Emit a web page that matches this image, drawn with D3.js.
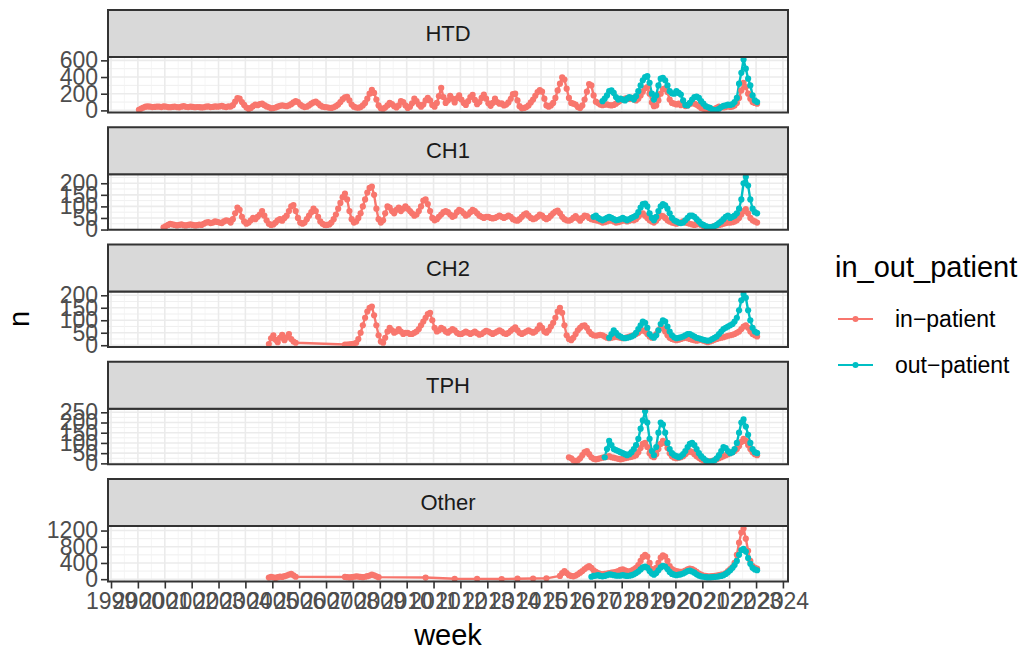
<!DOCTYPE html>
<html>
<head>
<meta charset="utf-8">
<script src="https://cdn.jsdelivr.net/npm/d3@7"></script>
<style>
  body { margin: 0; background: #fff; }
  text { font-family: "Liberation Sans", Arial, sans-serif; }
</style>
</head>
<body>
<div id="chart"></div>
<script>
// facets, groups and colours
var facetNames = ["HTD", "CH1", "CH2", "TPH", "Other"];
var groupNames = ["in-patient", "out-patient"];
var groupColors = ["#F8766D", "#00BFC4"];

// y breaks of each facet
var htdTicks = [0, 200, 400, 600];
var ch1Ticks = [0, 50, 100, 150, 200];
var ch2Ticks = [0, 50, 100, 150, 200];
var tphTicks = [0, 50, 100, 150, 200, 250];
var otherTicks = [0, 400, 800, 1200];

var htdInStart = "2000-01";
var htdIn = [
  8, 22, 35, 45, 48, 44, 40, 42, 46, 44, 40, 48,
  45, 40, 38, 42, 46, 40, 37, 44, 50, 43, 40, 46,
  42, 38, 41, 40, 36, 38, 44, 48, 40, 42, 47, 44,
  48, 54, 45, 40, 48, 46, 62, 105, 148, 140, 100, 65,
  35, 18, 30, 50, 68, 62, 74, 80, 62, 48, 38, 25,
  28, 35, 45, 55, 60, 55, 50, 60, 75, 95, 112, 100,
  70, 50, 40, 45, 60, 80, 95, 104, 85, 60, 45, 40,
  38, 32, 30, 38, 50, 70, 100, 135, 155, 162, 120, 70,
  45, 35, 32, 40, 60, 90, 140, 200, 245, 210, 130, 60,
  25, 20, 35, 60, 90, 75, 50, 35, 60, 110, 100, 60,
  30, 45, 85, 140, 110, 70, 45, 70, 120, 150, 120, 65,
  45, 90, 170, 270, 160, 90, 120, 175, 140, 95, 145, 180,
  130, 90, 65, 110, 160, 185, 125, 75, 100, 150, 190, 140,
  85, 55, 90, 140, 100, 80, 84, 60, 70, 95, 140, 195,
  200, 120, 50, 25, 30, 40, 60, 95, 130, 175, 220, 242,
  225, 140, 60, 45, 60, 90, 150, 240, 320, 395, 370, 260,
  150, 90, 80, 70, 40, 28, 60, 130, 225, 315, 300, 180,
  105, 88, 70, 62, 68, 72, 64, 60, 66, 80, 100, 118,
  125, 140, 148, 138, 150, 132, 120, 140, 180, 225, 265, 280,
  200, 95, 50, 60, 120, 200, 255, 265, 220, 130, 90, 80,
  72, 80, 62, 70, 52, 60, 78, 88, 80, 68, 50, 30,
  20, 10, 5, 5, 8, 18, 30, 45, 40, 35, 40, 50,
  42, 46, 60, 90, 150, 240, 330, 280, 200, 140, 100, 90,
  80
];
var htdOutStart = "2017-04";
var htdOut = [
  110, 140, 180, 230, 240, 210, 160, 130, 140,
  130, 120, 140, 160, 150, 130, 170, 230, 300, 360, 400, 410,
  330, 200, 130, 180, 300, 380, 390, 360, 300, 230, 205, 200,
  230, 210, 190, 120, 65, 60, 90, 130, 160, 165, 150, 110,
  80, 50, 40, 30, 10, 5, 8, 20, 40, 55, 60, 70,
  65, 75, 100, 150, 320, 450, 610, 500, 380, 300, 180, 120,
  100
];

var ch1InStart = "2000-12";
var ch1In = [
  10,
  15, 20, 25, 22, 20, 18, 20, 22, 19, 18, 20, 22,
  20, 18, 19, 21, 20, 25, 30, 32, 28, 30, 35, 33,
  30, 28, 35, 40, 38, 30, 45, 70, 95, 85, 55, 35,
  25, 30, 40, 50, 45, 55, 65, 80, 60, 40, 25, 20,
  22, 30, 40, 45, 38, 50, 60, 80, 100, 106, 80, 50,
  30, 25, 30, 45, 60, 75, 90, 80, 55, 35, 25, 20,
  20, 22, 30, 45, 65, 90, 115, 140, 155, 130, 80, 45,
  30, 35, 50, 70, 100, 130, 160, 180, 185, 150, 90, 45,
  30, 40, 70, 100, 95, 80, 70, 85, 95, 80, 90, 100,
  90, 80, 70, 60, 65, 80, 100, 125, 130, 110, 80, 50,
  40, 45, 55, 65, 75, 80, 75, 65, 55, 60, 75, 85,
  80, 70, 60, 65, 75, 85, 80, 70, 60, 55, 50, 55,
  55, 50, 48, 50, 55, 60, 55, 50, 55, 60, 55, 45,
  40, 38, 45, 55, 65, 70, 60, 50, 45, 48, 55, 65,
  60, 50, 45, 50, 60, 70, 78, 82, 70, 55, 45, 40,
  38, 42, 50, 58, 48, 38, 50, 60, 58, 50, 45, 42,
  40, 38, 35, 30, 32, 35, 38, 40, 35, 30, 32, 35,
  38, 40, 35, 38, 42, 40, 45, 55, 65, 70, 60, 50,
  40, 35, 30, 38, 50, 60, 58, 50, 40, 35, 30, 28,
  25, 28, 30, 35, 30, 28, 25, 22, 20, 22, 25, 20,
  15, 12, 10, 10, 12, 15, 18, 20, 22, 25, 28, 30,
  30, 32, 35, 40, 50, 65, 80, 88, 70, 50, 40, 35,
  30
];
var ch1OutStart = "2016-12";
var ch1Out = [
  55,
  60, 50, 45, 40, 45, 50, 55, 50, 45, 40, 42, 45,
  50, 45, 40, 45, 50, 55, 60, 75, 95, 110, 112, 100,
  70, 50, 40, 55, 80, 100, 110, 105, 90, 70, 50, 40,
  35, 30, 28, 30, 40, 50, 60, 60, 55, 45, 35, 25,
  20, 15, 12, 10, 12, 15, 20, 28, 35, 45, 55, 60,
  50, 55, 60, 70, 90, 130, 200, 228, 190, 130, 90, 75,
  70
];

var ch2InStartA = "2004-11";
var ch2InA = [5, 28, 40, 22, 12, 30, 42, 20, 32, 45, 25, 15, 10];
var ch2InStartB = "2007-09";
var ch2InB = [
  3, 3, 4, 5,
  6, 10, 25, 50, 80, 110, 135, 150, 155, 120, 80, 40,
  15, 10, 30, 55, 70, 60, 50, 55, 65, 55, 45, 50,
  50, 45, 45, 50, 55, 65, 80, 95, 110, 125, 130, 100,
  70, 55, 60, 70, 65, 55, 50, 58, 65, 60, 50, 45,
  45, 50, 55, 50, 45, 50, 55, 48, 42, 45, 52, 58,
  55, 50, 45, 50, 55, 60, 55, 48, 45, 50, 58, 65,
  72, 60, 50, 45, 50, 55, 60, 55, 50, 55, 65, 80,
  70, 55, 50, 60, 75, 90, 110, 135, 150, 130, 80, 40,
  25, 20, 30, 45, 60, 70, 78, 80, 70, 55, 45, 40,
  38, 40, 42, 40, 35, 30, 28, 30, 32, 35, 32, 30,
  28, 30, 32, 35, 38, 40, 45, 50, 58, 60, 55, 45,
  35, 30, 35, 45, 60, 70, 68, 55, 40, 30, 25, 22,
  20, 22, 25, 28, 30, 28, 25, 22, 20, 18, 20, 22,
  18, 15, 12, 15, 18, 22, 25, 28, 30, 32, 35, 38,
  40, 42, 45, 50, 55, 65, 75, 80, 70, 55, 45, 40,
  35
];
var ch2OutStart = "2017-07";
var ch2Out = [
  30, 45, 60, 50, 40, 35,
  30, 28, 30, 32, 35, 40, 50, 65, 80, 95, 90, 70,
  45, 35, 30, 40, 60, 85, 100, 95, 75, 55, 40, 32,
  28, 30, 32, 35, 40, 45, 45, 40, 35, 30, 28, 25,
  22, 20, 18, 20, 25, 30, 35, 45, 55, 65, 70, 75,
  80, 85, 95, 110, 140, 180, 205, 190, 140, 100, 70, 55,
  50
];

var tphInStart = "2016-01";
var tphIn = [
  30, 25, 15, 10, 15, 25, 40, 55, 60, 45, 30, 22,
  20, 22, 25, 28, 30, 32, 35, 30, 28, 25, 22, 20,
  22, 25, 28, 30, 32, 35, 40, 55, 75, 95, 100, 80,
  50, 35, 30, 45, 70, 95, 110, 100, 75, 50, 35, 28,
  25, 28, 30, 35, 45, 55, 60, 55, 45, 35, 28, 20,
  15, 12, 10, 10, 12, 15, 20, 25, 30, 35, 40, 45,
  50, 55, 60, 70, 85, 105, 120, 110, 90, 70, 55, 45,
  40
];
var tphOutStart = "2017-05";
var tphOut = [
  30, 70, 110, 90, 70, 65, 60, 55,
  50, 45, 40, 45, 55, 70, 90, 120, 170, 210, 255, 200,
  120, 60, 40, 80, 150, 200, 190, 150, 100, 70, 50, 40,
  35, 30, 35, 45, 60, 80, 95, 100, 90, 70, 50, 35,
  25, 15, 10, 8, 10, 15, 25, 40, 60, 80, 75, 60,
  50, 55, 70, 100, 150, 200, 215, 180, 140, 100, 70, 55,
  50
];

var otherInStartA = "2004-11";
var otherInA = [40, 55, 45, 30, 50, 65, 55, 75, 90, 110, 130, 95, 60];
var otherInStartB = "2007-09";
var otherInB = [55, 50, 45, 50, 60, 70, 65, 55, 50, 60, 75, 90, 110, 95, 70, 50];
var otherInSparseMonths = ["2010-09", "2011-10", "2012-08", "2013-07", "2014-02", "2014-09", "2015-03"];
var otherInSparse = [40, 10, 8, 5, 12, 15, 20];
var otherInStartC = "2015-09";
var otherInC = [
  80, 150, 200, 150,
  100, 80, 70, 90, 120, 160, 200, 250, 290, 320, 280, 220,
  180, 150, 130, 120, 130, 140, 150, 160, 170, 180, 200, 230,
  240, 220, 200, 190, 210, 240, 280, 350, 450, 550, 600, 560,
  400, 250, 200, 280, 400, 530, 590, 560, 450, 320, 250, 220,
  200, 190, 180, 190, 210, 240, 260, 250, 220, 180, 140, 110,
  90, 80, 70, 70, 75, 80, 90, 100, 110, 120, 150, 200,
  250, 300, 400, 600, 900, 1150, 1250, 1000, 700, 450, 320, 280,
  260
];
var otherOutStart = "2016-11";
var otherOut = [
  60, 80,
  90, 100, 80, 70, 80, 100, 120, 110, 100, 90, 85, 90,
  100, 90, 80, 85, 100, 120, 150, 190, 240, 290, 310, 280,
  200, 140, 110, 150, 220, 290, 330, 310, 250, 180, 130, 110,
  100, 110, 120, 140, 170, 200, 210, 190, 160, 120, 90, 70,
  60, 50, 45, 45, 50, 55, 60, 70, 80, 100, 130, 170,
  220, 280, 350, 450, 600, 720, 750, 680, 520, 380, 280, 240,
  220
];

// helpers to turn the arrays into dated points
function parseMonth(s) {
  var p = s.split("-").map(Number);
  return [p[0], p[1] - 1];
}
function monthly(start, vals) {
  var p = parseMonth(start);
  return vals.map(function(v, i) { return {date: new Date(p[0], p[1] + i, 15), n: v}; });
}
function byMonths(months, vals) {
  return vals.map(function(v, i) {
    var p = parseMonth(months[i]);
    return {date: new Date(p[0], p[1], 15), n: v};
  });
}

var series = [
  {facet: "HTD", group: 0, values: monthly(htdInStart, htdIn)},
  {facet: "HTD", group: 1, values: monthly(htdOutStart, htdOut)},
  {facet: "CH1", group: 0, values: monthly(ch1InStart, ch1In)},
  {facet: "CH1", group: 1, values: monthly(ch1OutStart, ch1Out)},
  {facet: "CH2", group: 0, values: monthly(ch2InStartA, ch2InA).concat(monthly(ch2InStartB, ch2InB))},
  {facet: "CH2", group: 1, values: monthly(ch2OutStart, ch2Out)},
  {facet: "TPH", group: 0, values: monthly(tphInStart, tphIn)},
  {facet: "TPH", group: 1, values: monthly(tphOutStart, tphOut)},
  {facet: "Other", group: 0, values: monthly(otherInStartA, otherInA)
      .concat(monthly(otherInStartB, otherInB))
      .concat(byMonths(otherInSparseMonths, otherInSparse))
      .concat(monthly(otherInStartC, otherInC))},
  {facet: "Other", group: 1, values: monthly(otherOutStart, otherOut)}
];
var facetTicks = {HTD: htdTicks, CH1: ch1Ticks, CH2: ch2Ticks, TPH: tphTicks, Other: otherTicks};

// layout
var width = 1023, height = 650;
var panelLeft = 108, panelRight = 788;
var firstStripTop = 10, facetStep = 117.25, stripH = 47, panelH = 55.5;

var svg = d3.select("#chart")
  .append("svg")
    .attr("width", width)
    .attr("height", height);

// x scale, padded 5% like ggplot
var allDates = [];
series.forEach(function(s) { s.values.forEach(function(d) { allDates.push(d.date); }); });
var dExt = d3.extent(allDates);
var dPad = (dExt[1] - dExt[0]) * 0.05;
var x = d3.scaleTime()
  .domain([new Date(+dExt[0] - dPad), new Date(+dExt[1] + dPad)])
  .range([panelLeft, panelRight]);
var yearTicks = x.ticks(d3.timeYear.every(1));
var midYears = yearTicks.map(function(d) { return new Date(d.getFullYear(), 6, 2); })
  .filter(function(d) { return d >= x.domain()[0] && d <= x.domain()[1]; });

var line = d3.line();

facetNames.forEach(function(name, fi) {
  var stripTop = firstStripTop + fi * facetStep;
  var panelTop = stripTop + stripH;
  var panelBottom = panelTop + panelH;
  var fs = series.filter(function(s) { return s.facet === name; });
  var vals = [];
  fs.forEach(function(s) { s.values.forEach(function(d) { vals.push(d.n); }); });
  var yExt = d3.extent(vals);
  var yPad = (yExt[1] - yExt[0]) * 0.05;
  var y = d3.scaleLinear()
    .domain([yExt[0] - yPad, yExt[1] + yPad])
    .range([panelBottom, panelTop]);
  var ticks = facetTicks[name];
  var step = ticks[1] - ticks[0];
  var minorY = [ticks[0] - step / 2].concat(ticks.map(function(t) { return t + step / 2; }))
    .filter(function(t) { return t >= y.domain()[0] && t <= y.domain()[1]; });

  var g = svg.append("g");

  // panel background + grid
  g.append("rect")
    .attr("x", panelLeft).attr("y", panelTop)
    .attr("width", panelRight - panelLeft).attr("height", panelH)
    .attr("fill", "#fff");
  g.selectAll(".ymin").data(minorY).enter().append("line")
    .attr("x1", panelLeft).attr("x2", panelRight)
    .attr("y1", function(d) { return y(d); }).attr("y2", function(d) { return y(d); })
    .attr("stroke", "#EBEBEB").attr("stroke-width", 0.8);
  g.selectAll(".xmin").data(midYears).enter().append("line")
    .attr("x1", function(d) { return x(d); }).attr("x2", function(d) { return x(d); })
    .attr("y1", panelTop).attr("y2", panelBottom)
    .attr("stroke", "#F2F2F2").attr("stroke-width", 0.8);
  g.selectAll(".ymaj").data(ticks).enter().append("line")
    .attr("x1", panelLeft).attr("x2", panelRight)
    .attr("y1", function(d) { return y(d); }).attr("y2", function(d) { return y(d); })
    .attr("stroke", "#EBEBEB").attr("stroke-width", 1.6);
  g.selectAll(".xmaj").data(yearTicks).enter().append("line")
    .attr("x1", function(d) { return x(d); }).attr("x2", function(d) { return x(d); })
    .attr("y1", panelTop).attr("y2", panelBottom)
    .attr("stroke", "#EBEBEB").attr("stroke-width", 1.6);

  // clip for data
  var clipId = "clip" + fi;
  svg.append("clipPath").attr("id", clipId)
    .append("rect")
      .attr("x", panelLeft).attr("y", panelTop)
      .attr("width", panelRight - panelLeft).attr("height", panelH);
  var dg = g.append("g").attr("clip-path", "url(#" + clipId + ")");

  line.x(function(d) { return x(d.date); }).y(function(d) { return y(d.n); });
  fs.forEach(function(s) {
    dg.append("path")
      .attr("d", line(s.values))
      .attr("fill", "none")
      .attr("stroke", groupColors[s.group])
      .attr("stroke-width", 2.4)
      .attr("stroke-linejoin", "round");
  });
  fs.forEach(function(s) {
    dg.append("g").selectAll("circle")
      .data(s.values)
      .enter().append("circle")
        .attr("cx", function(d) { return x(d.date); })
        .attr("cy", function(d) { return y(d.n); })
        .attr("r", 3.1)
        .attr("fill", groupColors[s.group]);
  });

  // panel border
  g.append("rect")
    .attr("x", panelLeft).attr("y", panelTop)
    .attr("width", panelRight - panelLeft).attr("height", panelH)
    .attr("fill", "none").attr("stroke", "#333333").attr("stroke-width", 2);

  // strip
  g.append("rect")
    .attr("x", panelLeft).attr("y", stripTop)
    .attr("width", panelRight - panelLeft).attr("height", stripH)
    .attr("fill", "#D9D9D9").attr("stroke", "#333333").attr("stroke-width", 2);
  g.append("text")
    .attr("x", (panelLeft + panelRight) / 2).attr("y", stripTop + stripH / 2)
    .attr("dy", "0.35em")
    .attr("text-anchor", "middle")
    .attr("font-size", 22)
    .attr("fill", "#1A1A1A")
    .text(name);

  // y axis
  var yAxis = g.append("g")
    .attr("transform", "translate(" + panelLeft + ",0)")
    .call(d3.axisLeft(y).tickValues(ticks).tickFormat(d3.format("d")).tickSize(7).tickPadding(3));
  yAxis.select(".domain").remove();
  yAxis.selectAll(".tick line").attr("stroke", "#333333").attr("stroke-width", 1.6);
  yAxis.selectAll(".tick text")
    .attr("font-size", 23).attr("fill", "#4D4D4D")
    .attr("font-family", "Liberation Sans, Arial, sans-serif");

  // x axis under last panel
  if (fi === facetNames.length - 1) {
    var xAxis = g.append("g")
      .attr("transform", "translate(0," + panelBottom + ")")
      .call(d3.axisBottom(x).tickValues(yearTicks).tickFormat(d3.timeFormat("%Y")).tickSize(7).tickPadding(4));
    xAxis.select(".domain").remove();
    xAxis.selectAll(".tick line").attr("stroke", "#333333").attr("stroke-width", 1.6);
    xAxis.selectAll(".tick text")
      .attr("font-size", 23).attr("fill", "#4D4D4D")
      .attr("font-family", "Liberation Sans, Arial, sans-serif");
  }
});

// axis titles
svg.append("text")
  .attr("x", (panelLeft + panelRight) / 2).attr("y", 645)
  .attr("text-anchor", "middle")
  .attr("font-size", 29)
  .text("week");
svg.append("text")
  .attr("transform", "translate(29,319) rotate(-90)")
  .attr("text-anchor", "middle")
  .attr("font-size", 29)
  .text("n");

// legend
var legend = svg.append("g");
legend.append("text")
  .attr("x", 835).attr("y", 277)
  .attr("font-size", 29)
  .text("in_out_patient");
groupNames.forEach(function(gname, i) {
  var ly = 319 + i * 46;
  legend.append("line")
    .attr("x1", 838).attr("x2", 873).attr("y1", ly).attr("y2", ly)
    .attr("stroke", groupColors[i]).attr("stroke-width", 2);
  legend.append("circle")
    .attr("cx", 855.5).attr("cy", ly).attr("r", 3)
    .attr("fill", groupColors[i]);
  legend.append("text")
    .attr("x", 895).attr("y", ly).attr("dy", "0.35em")
    .attr("font-size", 23)
    .text(gname.replace("-", "\u2212"));
});
</script>
</body>
</html>
